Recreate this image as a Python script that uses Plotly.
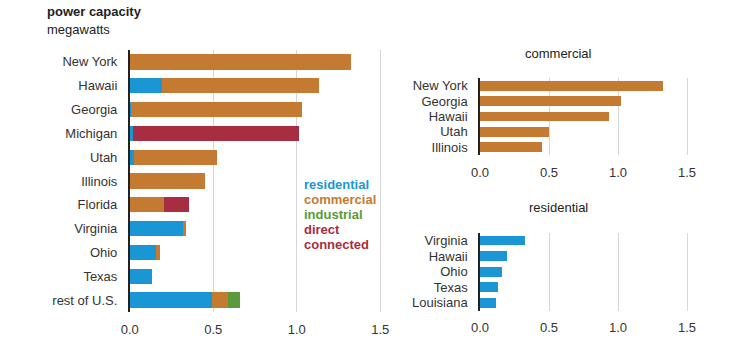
import plotly.graph_objects as go

# ---- data ----
states = ["New York", "Hawaii", "Georgia", "Michigan", "Utah", "Illinois",
          "Florida", "Virginia", "Ohio", "Texas", "rest of U.S."]
residential = [0.0, 0.195, 0.01, 0.018, 0.024, 0.0, 0.0, 0.321, 0.16, 0.135, 0.493]
commercial = [1.325, 0.939, 1.024, 0.0, 0.496, 0.449, 0.205, 0.016, 0.021, 0.0, 0.096]
industrial = [0.0, 0.0, 0.0, 0.0, 0.0, 0.0, 0.0, 0.0, 0.0, 0.0, 0.072]
direct_connected = [0.0, 0.0, 0.0, 0.996, 0.0, 0.0, 0.15, 0.0, 0.0, 0.0, 0.0]

com_states = ["New York", "Georgia", "Hawaii", "Utah", "Illinois"]
com_values = [1.328, 1.024, 0.937, 0.50, 0.449]

res_states = ["Virginia", "Hawaii", "Ohio", "Texas", "Louisiana"]
res_values = [0.326, 0.196, 0.16, 0.134, 0.116]

tick_vals = [0.0, 0.5, 1.0, 1.5]
tick_text = ["0.0", "0.5", "1.0", "1.5"]

C_RES = "#1a96d4"
C_COM = "#c47a30"
C_IND = "#5a9a3a"
C_DIR = "#a62e40"

W, H = 739, 348
FONT = "Liberation Sans, Arial, sans-serif"
TXT = "#333333"

fig = go.Figure()
for name, vals, col in [("residential", residential, C_RES),
                        ("commercial", commercial, C_COM),
                        ("industrial", industrial, C_IND),
                        ("direct connected", direct_connected, C_DIR)]:
    fig.add_trace(go.Bar(y=states, x=vals, orientation="h", marker_color=col,
                         marker_line_width=0, name=name, xaxis="x", yaxis="y",
                         showlegend=False))

fig.add_trace(go.Bar(y=com_states, x=com_values, orientation="h", marker_color=C_COM,
                     marker_line_width=0, xaxis="x2", yaxis="y2", showlegend=False))
fig.add_trace(go.Bar(y=res_states, x=res_values, orientation="h", marker_color=C_RES,
                     marker_line_width=0, xaxis="x3", yaxis="y3", showlegend=False))

def px_x(a, b):
    return [a / W, b / W]

def px_y(top, bottom):
    return [1 - bottom / H, 1 - top / H]

xr = 1.52
main_x0, main_unit = 129.7, 167.0
side_x0, side_unit = 480.0, 138.0

xcommon = dict(range=[0, xr], tickvals=tick_vals, ticktext=tick_text, automargin=False,
               showgrid=True, gridcolor="#d6d6d6", gridwidth=1, zeroline=False,
               showline=False, ticks="outside", ticklen=5, tickcolor="rgba(0,0,0,0)",
               tickfont=dict(family=FONT, size=13, color=TXT), fixedrange=True)
ycommon = dict(type="category", autorange="reversed", showgrid=False, zeroline=False,
               showline=True, linecolor="#222222", linewidth=1.5, automargin=False,
               ticks="outside", ticklen=8, tickcolor="rgba(0,0,0,0)",
               tickfont=dict(family=FONT, size=13, color=TXT), fixedrange=True)

fig.update_layout(
    width=W, height=H, margin=dict(l=0, r=0, t=0, b=0, pad=0, autoexpand=False),
    paper_bgcolor="white", plot_bgcolor="white", barmode="stack", bargap=0.36,
    font=dict(family=FONT, color=TXT),
    xaxis=dict(xcommon, domain=px_x(main_x0, main_x0 + xr * main_unit), anchor="y"),
    yaxis=dict(ycommon, domain=px_y(50, 312), anchor="x",
               tickmode="array", tickvals=states, ticktext=states),
    xaxis2=dict(xcommon, domain=px_x(side_x0, side_x0 + xr * side_unit), anchor="y2"),
    yaxis2=dict(ycommon, domain=px_y(78, 155), anchor="x2",
                tickmode="array", tickvals=com_states, ticktext=com_states),
    xaxis3=dict(xcommon, domain=px_x(side_x0, side_x0 + xr * side_unit), anchor="y3"),
    yaxis3=dict(ycommon, domain=px_y(232.7, 310.7), anchor="x3",
                tickmode="array", tickvals=res_states, ticktext=res_states),
)

ann = []
ann.append(dict(text="<b>power capacity</b>", x=45 / W, y=1 - 12 / H, xref="paper", yref="paper",
                xanchor="left", yanchor="middle", showarrow=False,
                font=dict(family=FONT, size=13, color="#222222")))
ann.append(dict(text="megawatts", x=45 / W, y=1 - 29 / H, xref="paper", yref="paper",
                xanchor="left", yanchor="middle", showarrow=False,
                font=dict(family=FONT, size=13, color="#222222")))
ann.append(dict(text="commercial", x=558 / W, y=1 - 53 / H, xref="paper", yref="paper",
                xanchor="center", yanchor="middle", showarrow=False,
                font=dict(family=FONT, size=13, color="#222222")))
ann.append(dict(text="residential", x=558 / W, y=1 - 207 / H, xref="paper", yref="paper",
                xanchor="center", yanchor="middle", showarrow=False,
                font=dict(family=FONT, size=13, color="#222222")))
legend_items = [("residential", C_RES, 184), ("commercial", C_COM, 199),
                ("industrial", C_IND, 214), ("direct", C_DIR, 229), ("connected", C_DIR, 244)]
for t, c, yy in legend_items:
    ann.append(dict(text="<b>" + t + "</b>", x=302 / W, y=1 - yy / H, xref="paper", yref="paper",
                    xanchor="left", yanchor="middle", showarrow=False,
                    font=dict(family=FONT, size=13, color=c)))
fig.update_layout(annotations=ann)

fig.write_html("out.html")
